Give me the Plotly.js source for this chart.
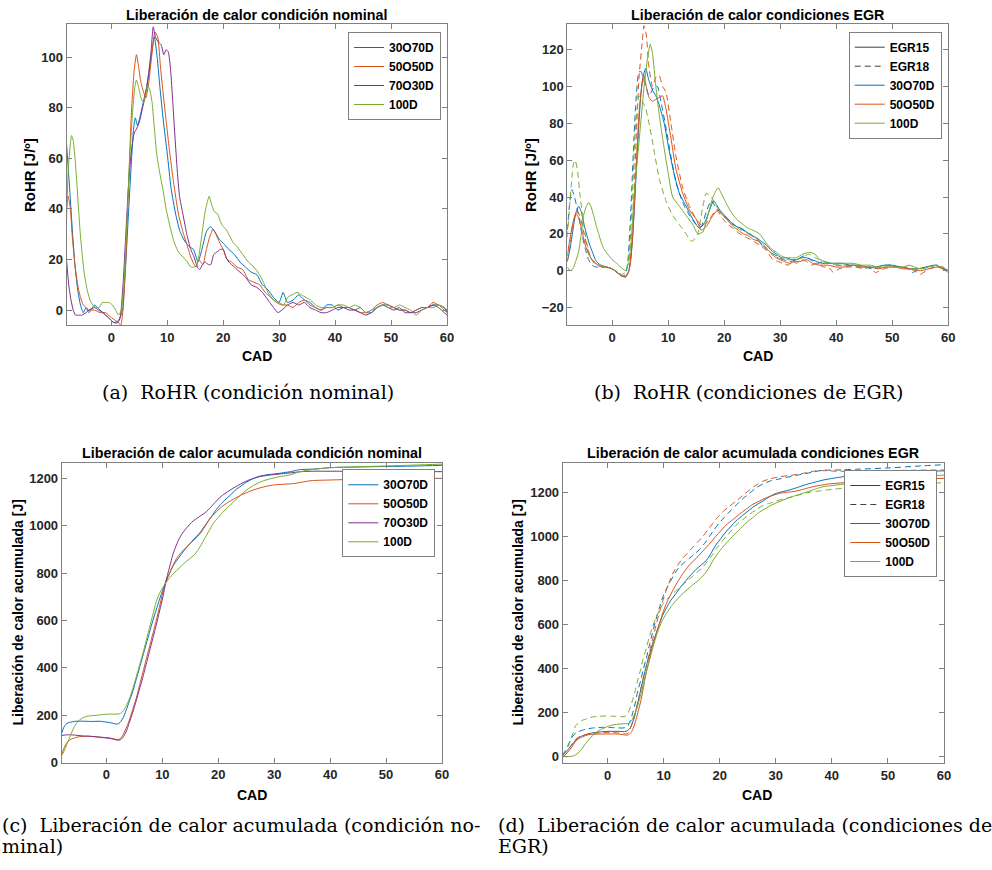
<!DOCTYPE html>
<html><head><meta charset="utf-8">
<script src="https://cdn.plot.ly/plotly-3.0.1.min.js"></script>
<style>html,body{margin:0;padding:0;background:#fff}#chart{width:992px;height:870px}</style>
</head><body><div id="chart"></div><script>
// ---------- DATA: [CAD, value] pairs ----------
// (a) RoHR, condición nominal [J/º]
const rohrNom_30O70D = [[-8,66],[-7.5,50],[-7,33],[-6.5,18],[-6,8],[-5.5,2],[-5,-1],[-4.5,1],[-4,-1],[-3,2],[-2.5,1],[-2,0],[-1,-2],[-0.5,-3],[0.5,-5],[1.3,-4],[2,0],[2.5,15],[3,35],[3.5,55],[4,72],[4.3,76],[4.7,73],[5.2,77],[5.7,82],[6.3,88],[7,98],[7.7,108],[8.2,100],[8.7,88],[9.3,75],[10,62],[10.7,48],[11.5,38],[12.3,31],[13.2,27],[14,25],[14.7,24],[15.5,19],[16.2,24],[17,31],[17.7,33],[18.5,31],[19.3,28],[20.2,26],[21,24],[22,22],[23,19],[24,17],[25,15],[26,14],[27,10],[28,8],[29,5],[30,3],[30.7,7],[31.5,3],[32.5,4],[33.5,6],[34.5,4],[35.5,3],[36.5,1],[37.5,0],[38.5,2],[39.5,2],[40.5,0],[41.5,1],[42.5,1],[43.5,0],[44.5,1],[45.5,-1],[46.5,-1],[47.5,1],[48.5,2],[49.5,2],[50.5,1],[51.5,0],[52.5,0],[53.5,-1],[54.5,0],[55.5,1],[56.5,1],[57.5,2],[58.5,2],[59.5,1],[60,-1]];
const rohrNom_50O50D = [[-8,40],[-7.7,45],[-7.3,40],[-7,30],[-6.5,18],[-6,10],[-5.5,5],[-5,2],[-4.5,1],[-4,0],[-3,0],[-2,-1],[-1,-1],[0,-3],[0.7,-4],[1.3,-5],[1.7,-6],[2.1,0],[2.6,20],[3.1,50],[3.6,78],[4.1,95],[4.5,101],[4.9,96],[5.3,90],[5.8,86],[6.2,84],[6.7,90],[7.2,100],[7.8,110],[8.3,108],[8.8,96],[9.3,85],[9.8,75],[10.3,65],[10.8,56],[11.3,48],[12,38],[12.8,31],[13.5,26],[14.2,21],[14.8,18],[15.2,17],[15.6,20],[16,19],[16.4,18],[17,24],[17.6,29],[18.2,32],[18.7,30],[19.3,27],[20,24],[20.7,20],[21.5,19],[22.5,17],[23.5,16],[24.5,12],[25.5,11],[26.5,10],[27.5,7],[28.5,5],[29.5,3],[30.5,2],[31.5,2],[32.5,1],[33.5,3],[34.5,4],[35.5,2],[36.5,1],[37.5,0],[38.5,1],[39.5,1],[40.5,2],[41.5,1],[42.5,1],[43.5,0],[44.5,-1],[45.5,-1],[46.5,0],[47.5,2],[48.5,3],[49.5,2],[50.5,1],[51.5,0],[52.5,0],[53.5,-1],[54.5,0],[55.5,1],[56.5,1],[57.5,3],[58.5,2],[59.5,1],[60,0]];
const rohrNom_70O30D = [[-8,20],[-7.6,10],[-7.2,4],[-6.8,0],[-6.4,-2],[-6,-2],[-5.3,-2],[-4.5,-1],[-4,0],[-3,1],[-2.3,0],[-1.5,-1],[-0.5,-3],[0.5,-5],[1.2,-5],[1.6,-3],[2.1,10],[2.6,30],[3.1,50],[3.6,63],[4.1,70],[4.6,72],[5.1,75],[5.6,80],[6.1,85],[6.6,92],[7.1,102],[7.5,112],[7.9,108],[8.4,106],[8.9,105],[9.4,101],[9.8,103],[10.2,102],[10.6,95],[11,82],[11.4,68],[11.8,55],[12.2,45],[12.8,38],[13.5,30],[14.2,24],[14.8,21],[15.4,17],[15.8,16],[16.3,18],[16.8,19],[17.3,18],[17.8,18],[18.3,22],[18.9,23],[19.5,24],[20,24],[20.5,21],[21,19],[22,17],[23,15],[24,13],[25,10],[26,9],[27,7],[28,4],[29,1],[29.8,-1],[30.5,0],[31.5,2],[32.5,3],[33.5,2],[34.5,3],[35.5,1],[36.5,0],[37.5,-1],[38.5,-1],[39.5,0],[40.5,1],[41.5,1],[42.5,0],[43.5,0],[44.5,-1],[45.5,-2],[46.5,-1],[47.5,1],[48.5,2],[49.5,1],[50.5,0],[51.5,1],[52.5,-1],[53.5,-1],[54.5,-1],[55.5,0],[56.5,1],[57.5,2],[58.5,1],[59.5,-1],[60,-2]];
const rohrNom_100D = [[-8,35],[-7.7,55],[-7.3,66],[-7.1,69],[-6.8,67],[-6.4,58],[-6,45],[-5.6,32],[-5.2,22],[-4.8,14],[-4.3,8],[-3.8,4],[-3.3,2],[-2.8,1],[-2.2,1],[-1.6,3],[-1,3],[-0.4,3],[0.2,2],[0.8,0],[1.3,-2],[1.8,0],[2.3,12],[2.8,35],[3.3,60],[3.8,78],[4.2,88],[4.5,91],[4.9,88],[5.3,84],[5.8,82],[6.2,86],[6.5,89],[6.9,87],[7.3,82],[7.7,72],[8.1,62],[8.6,55],[9.2,48],[9.8,40],[10.5,33],[11.2,27],[12,23],[12.8,21],[13.6,19],[14.2,17],[14.8,17],[15.3,18],[15.7,22],[16.2,30],[16.7,38],[17.2,43],[17.5,45],[17.9,42],[18.4,39],[19,38],[19.5,35],[20,33],[20.5,32],[21,30],[21.7,27],[22.5,25],[23.5,22],[24.5,19],[25.5,17],[26.5,14],[27.2,11],[28,7],[29,4],[30,3],[30.8,2],[31.5,5],[32.3,6],[33.2,7],[34,6],[34.8,5],[35.6,4],[36.5,2],[37.5,1],[38.5,1],[39.5,1],[40.5,2],[41.5,2],[42.5,1],[43.5,2],[44.5,1],[45.5,-1],[46.5,0],[47.5,1],[48.5,2],[49.5,1],[50.5,1],[51.5,2],[52.5,1],[53.5,0],[54.5,-2],[55.5,0],[56.5,1],[57.5,1],[58.5,2],[59.5,0],[60,-1]];

// (b) RoHR, condiciones EGR (EGR15 solid, EGR18 dashed)
const rohrEgr15_30O70D = [[-8,5],[-7.5,12],[-7,22],[-6.5,31],[-6,35],[-5.5,32],[-5,25],[-4.5,19],[-4,14],[-3.5,10],[-3,6],[-2.5,4],[-2,3],[-1,2],[0,1],[0.9,-1],[1.8,-3],[2.4,-3],[2.9,-1],[3.3,5],[3.9,30],[4.5,65],[5.1,95],[5.5,105],[6,110],[6.5,104],[7.2,98],[7.8,95],[8.4,90],[9.3,80],[10.2,65],[11.1,52],[12,42],[13.2,35],[14.4,28],[15.6,23],[16.5,26],[17.4,33],[18.1,38],[18.6,36],[19.2,33],[20.4,29],[21.3,26],[22.2,24],[23.1,23],[24,21],[25,19],[25.7,18],[26.6,16],[27.5,14],[28.4,11],[29.3,9],[30.2,7],[31.1,7],[32,6],[32.9,6],[33.8,7],[34.7,7],[35.6,6],[36.5,5],[37.4,4],[38.3,4],[39.5,4],[41,4],[42.5,3],[44,3],[45.5,2],[47,2],[48.5,3],[50,3],[51.5,2],[53,1],[54.5,1],[56,2],[57.5,3],[58.5,2],[60,0]];
const rohrEgr18_30O70D = [[-8,22],[-7.6,36],[-7.2,44],[-6.8,41],[-6.4,36],[-6,30],[-5.4,20],[-4.8,12],[-4.2,6],[-3.6,3],[-3,2],[-2.4,2],[-1.5,2],[0,1],[1,-1],[1.8,-3],[2.4,-2],[2.8,5],[3.3,30],[3.8,65],[4.2,90],[4.8,108],[5.2,108],[5.5,105],[6,100],[6.6,95],[7,97],[7.5,100],[8.1,100],[8.7,92],[9.6,78],[10.5,62],[11.4,48],[12.6,37],[13.8,30],[15,25],[15.9,24],[16.8,32],[17.7,38],[18.6,34],[19.8,30],[21,27],[22.2,24],[23.4,22],[24.6,20],[25.8,17],[27,14],[28.2,10],[29.4,8],[30.6,6],[31.8,5],[33,6],[34.2,8],[35.4,6],[36.6,4],[37.8,5],[39,4],[40.5,3],[42,3],[43.5,2],[45,2],[46.5,1],[48,2],[49.5,3],[51,2],[52.5,2],[53.5,-1],[55,1],[56.5,2],[58,3],[59,1],[60,0]];
const rohrEgr15_50O50D = [[-8,8],[-7.5,18],[-7,26],[-6.5,31],[-6,29],[-5.4,22],[-4.8,14],[-4.2,9],[-3.6,6],[-3,4],[-2.4,3],[-1.8,2],[-1,2],[0,1],[0.9,-1],[1.8,-3],[2.4,-3.5],[3,0],[3.6,15],[4.2,50],[4.8,85],[5.4,103],[5.7,106],[6.1,100],[6.6,94],[7.2,92],[7.8,93],[8.4,94],[9,95],[9.6,88],[10.5,72],[11.4,55],[12.6,42],[13.8,33],[15,28],[15.9,22],[16.8,24],[18,30],[18.9,33],[19.8,30],[20.7,27],[21.6,24],[22.5,22],[23.4,20],[24.3,19],[25.2,17],[26.1,16],[27,13],[27.9,11],[28.8,8],[29.9,6],[30.8,5],[31.7,4],[32.6,5],[33.5,5],[34.7,6],[35.8,4],[37,3],[38.5,3],[40,2],[41.5,2],[43,3],[44.5,2],[46,2],[47.5,1],[49,2],[50.5,2],[52,1],[53.5,1],[55,0],[56.5,1],[58,2],[59,1],[60,0]];
const rohrEgr18_50O50D = [[-8,5],[-7.5,14],[-7,25],[-6.5,31],[-6.1,32],[-5.6,28],[-5,20],[-4.4,12],[-3.8,7],[-3.2,4],[-2.6,3],[-1.8,2],[-1,2],[0,1],[0.9,-1],[1.8,-3],[2.4,-3.5],[3,0],[3.6,20],[4.2,65],[4.8,105],[5.4,125],[5.7,133],[6.1,128],[6.6,110],[7.2,100],[7.8,105],[8.4,106],[9,100],[9.6,97],[10.5,80],[11.4,62],[12.6,45],[13.8,35],[15,28],[16.2,24],[17.4,28],[18.6,33],[19.8,28],[20.7,25],[21.6,23],[22.8,20],[24,18],[25.2,16],[26.3,14],[27.5,11],[28.7,6],[29.6,5],[30.5,4],[31.4,3],[32.3,5],[32.9,4],[33.8,6],[34.7,5],[35.6,3],[36.5,4],[37.7,2],[38.6,2],[39.5,-1],[40.5,1],[42,2],[43.5,2],[45,1],[46,2],[47,-1],[48.5,1],[50,2],[51.5,2],[53,1],[54,0],[55,-2],[56.5,1],[58,2],[59,2],[60,0]];
const rohrEgr15_100D = [[-8,2],[-7.5,0],[-7,1],[-6.5,5],[-6,10],[-5.5,20],[-5.1,30],[-4.6,35],[-4.2,37],[-3.8,35],[-3.3,30],[-2.8,24],[-2.4,20],[-1.9,15],[-1.5,12],[-0.8,9],[0,6],[0.8,4],[1.5,2],[2.4,0],[3,5],[3.5,20],[3.9,40],[4.5,60],[5.1,80],[5.7,100],[6.3,115],[6.8,123],[7.2,118],[7.8,100],[8.4,85],[9,72],[9.9,55],[10.8,40],[12,35],[13.2,30],[14.4,25],[15.3,20],[16.2,21],[17.1,30],[18,40],[18.9,45],[19.8,40],[21,33],[22.2,28],[23.4,25],[24.3,23],[25.1,22],[26.3,20],[27.5,15],[28.4,12],[29.3,10],[30.2,8],[31.1,7],[32,7],[32.9,7],[34,9],[35.3,10],[36.2,9],[37.1,6],[38,5],[38.9,4],[40,4],[41.5,4],[43,4],[44.5,3],[46,3],[47.5,2],[49,2],[50.5,2],[52,2],[53,3],[54,2],[55,1],[56.5,2],[58,3],[59,1],[60,-1]];
const rohrEgr18_100D = [[-8,18],[-7.6,35],[-7.2,50],[-6.9,58],[-6.6,60],[-6.2,55],[-5.7,40],[-5.2,28],[-4.8,20],[-4.3,12],[-3.9,8],[-3.2,5],[-2.4,3],[-1.2,2],[0,1],[1,-1],[1.8,-2],[2.3,-1],[2.7,2],[3.2,15],[3.6,40],[4.2,80],[4.8,95],[5.4,92],[6,88],[6.6,80],[7.5,65],[8.4,50],[9.6,38],[10.8,30],[12,25],[13.2,20],[14.1,16],[14.7,17],[15.3,20],[16.2,35],[16.8,42],[17.7,40],[18.6,35],[19.5,31],[20.7,27],[21.9,24],[23.1,22],[24.3,20],[25.5,18],[26.7,15],[27.9,11],[29.1,8],[30.3,6],[31.5,6],[32.7,6],[33.9,7],[35.1,9],[36.3,7],[37.5,5],[38.7,4],[40,3],[41.5,3],[43,3],[44.5,2],[46,2],[47.5,2],[49,3],[50.5,2],[52,2],[53.5,1],[55,1],[56.5,2],[58,3],[59,2],[60,0]];

// (c) Liberación de calor acumulada, condición nominal [J]
const cumNom_30O70D = [[-8,124],[-7.6,150],[-7.1,165],[-6.6,170],[-5.4,175],[-4,175],[-2.5,174],[-1.3,175],[-0.2,172],[0.5,170],[1.2,166],[1.7,163],[2.2,165],[2.6,175],[3,190],[3.5,220],[4.1,260],[4.7,300],[5.3,350],[5.9,400],[6.5,450],[7.1,500],[7.7,550],[8.3,600],[8.9,645],[9.5,690],[10.1,730],[10.7,770],[11.3,800],[11.9,830],[12.8,860],[13.7,890],[14.6,915],[15.5,940],[16.1,955],[16.7,970],[17.3,990],[17.9,1010],[18.8,1040],[19.7,1070],[20.6,1095],[21.5,1115],[22.4,1135],[23.3,1155],[24.2,1170],[25.1,1185],[26,1196],[26.9,1205],[27.8,1211],[28.7,1215],[30.5,1220],[32,1225],[32.9,1228],[34,1234],[34.7,1237],[36,1238],[37.7,1240],[40,1245],[45,1248],[50,1250],[55,1252],[60,1255]];
const cumNom_50O50D = [[-8,35],[-7.6,60],[-7.2,80],[-6.7,93],[-6.3,100],[-5.5,106],[-4.8,110],[-3.1,112],[-1.3,108],[0.5,105],[1.3,101],[2,97],[2.5,102],[2.9,115],[3.5,145],[4.1,180],[4.7,225],[5.3,270],[5.9,325],[6.5,380],[7.1,435],[7.7,490],[8.3,545],[8.9,600],[9.5,660],[10.1,720],[10.7,765],[11.3,800],[11.9,832],[12.5,860],[13.4,888],[14.3,910],[15.2,930],[16.1,950],[16.7,965],[17.3,985],[17.9,1008],[18.5,1030],[19.1,1045],[19.7,1060],[20.6,1080],[21.5,1095],[22.4,1108],[23.3,1120],[24.2,1131],[25.1,1140],[26.3,1151],[27.5,1160],[28.7,1167],[29.9,1172],[31.7,1175],[33.5,1178],[35,1184],[36.5,1190],[40,1193],[45,1196],[50,1198],[55,1199],[60,1200]];
const cumNom_70O30D = [[-8,115],[-7.3,117],[-6.6,118],[-5.5,116],[-4.3,113],[-2.8,111],[-1.3,108],[0,104],[1.1,100],[2,95],[2.5,97],[2.9,105],[3.5,130],[4.1,170],[4.7,212],[5.3,260],[5.9,310],[6.5,360],[7.1,415],[7.7,470],[8.3,525],[8.9,580],[9.5,640],[10.1,700],[10.6,760],[11,800],[11.5,845],[11.9,880],[12.5,918],[13.1,950],[13.7,972],[14.3,990],[14.9,1006],[15.5,1020],[16.1,1030],[16.7,1040],[17.3,1049],[17.9,1060],[18.5,1074],[19.1,1090],[19.7,1105],[20.3,1120],[21.2,1136],[22.1,1150],[23,1163],[23.9,1175],[24.8,1186],[25.7,1195],[26.6,1202],[27.5,1208],[28.4,1211],[29.3,1214],[30.5,1217],[31.7,1220],[33.2,1224],[34.7,1228],[37,1230],[40,1230],[45,1230],[50,1230],[55,1229],[60,1228]];
const cumNom_100D = [[-8,30],[-7.6,48],[-7.2,70],[-6.6,105],[-6,140],[-5.4,165],[-4.8,180],[-4.2,190],[-3.7,195],[-2.8,198],[-1.9,200],[-0.7,203],[0.5,205],[1.3,205],[2,205],[2.5,208],[2.9,215],[3.5,238],[4.1,270],[4.7,312],[5.3,360],[5.9,410],[6.5,460],[7.1,515],[7.7,570],[8.3,625],[8.9,680],[9.5,715],[10.1,740],[10.7,762],[11.3,780],[11.9,796],[12.5,810],[13.4,830],[14.3,850],[15.1,865],[15.8,880],[16.3,895],[16.7,910],[17.3,935],[17.9,960],[18.5,985],[19.1,1010],[20,1035],[20.9,1060],[21.8,1080],[22.7,1100],[23.6,1120],[24.5,1140],[25.4,1156],[26.3,1170],[27.2,1181],[28.1,1190],[29.3,1198],[30.5,1205],[31.7,1210],[32.9,1215],[33.8,1222],[34.7,1228],[36,1234],[37.7,1240],[40,1245],[45,1249],[50,1252],[55,1256],[60,1260]];

// (d) Liberación de calor acumulada, condiciones EGR [J]
const cumEgr15_30O70D = [[-8,10],[-7.4,22],[-6.8,40],[-6.2,58],[-5.7,75],[-5.1,87],[-4.5,95],[-3.9,100],[-3.3,105],[-2.4,109],[-1.5,112],[-0.6,114],[0.3,115],[1.2,115],[2.1,115],[2.7,114],[3.3,115],[3.9,125],[4.3,145],[4.8,180],[5.2,225],[5.7,280],[6.2,335],[6.8,400],[7.4,455],[8,510],[8.6,555],[9.2,600],[9.8,640],[10.4,670],[11.3,710],[12.2,740],[13.1,772],[14,800],[14.9,826],[15.8,850],[16.7,870],[17.6,890],[18.5,925],[19.3,960],[20.2,990],[21.1,1020],[22,1045],[22.9,1070],[24.1,1095],[25.3,1120],[26.5,1142],[27.7,1160],[28.9,1180],[30.1,1195],[31.3,1203],[32.4,1210],[33.9,1222],[35.4,1235],[36.9,1245],[38.4,1255],[39.9,1262],[41.4,1268],[42.9,1274],[44.3,1280],[47,1285],[50,1290],[55,1294],[60,1297]];
const cumEgr18_30O70D = [[-8,5],[-7.6,25],[-7.1,50],[-6.5,80],[-6,100],[-5.3,112],[-4.5,120],[-3.6,126],[-2.7,130],[-1.8,132],[-0.9,133],[0,133],[0.9,132],[1.8,131],[2.7,130],[3.2,133],[3.6,140],[4,160],[4.5,200],[5,250],[5.4,300],[5.9,345],[6.3,390],[6.9,445],[7.4,500],[8,560],[8.6,620],[9.2,672],[9.8,720],[10.5,762],[11.3,800],[12,832],[12.8,860],[13.7,882],[14.6,900],[15.5,920],[16.4,940],[17.3,968],[18.2,1000],[19,1030],[19.9,1060],[20.8,1085],[21.7,1110],[22.9,1140],[24.1,1170],[25.3,1195],[26.5,1220],[27.7,1237],[28.9,1250],[30.6,1260],[32.4,1270],[33.9,1278],[35.4,1285],[36.9,1293],[38.4,1300],[40,1300],[42,1302],[45,1305],[50,1310],[55,1318],[60,1325]];
const cumEgr15_50O50D = [[-8,0],[-7.4,12],[-6.8,30],[-6.2,50],[-5.7,70],[-5.1,82],[-4.5,90],[-3.9,96],[-3.3,100],[-2.1,102],[-0.9,103],[0.3,103],[1.5,103],[2.1,102],[2.7,100],[3.2,98],[3.6,98],[4.2,110],[4.6,130],[5.1,170],[5.5,210],[6,260],[6.4,315],[6.8,370],[7.4,435],[8,500],[8.6,550],[9.2,600],[9.8,648],[10.4,690],[11.3,738],[12.2,780],[13.1,818],[14,850],[14.9,878],[15.8,900],[16.7,925],[17.6,950],[18.5,975],[19.3,1000],[20.2,1025],[21.1,1050],[22.3,1075],[23.5,1100],[24.7,1123],[25.9,1145],[27.1,1160],[28.3,1175],[29.5,1186],[30.7,1195],[32.1,1200],[33.6,1205],[35.1,1215],[36.6,1225],[38.1,1232],[39.6,1238],[41.5,1242],[43,1245],[45,1248],[50,1255],[55,1260],[60,1263]];
const cumEgr18_50O50D = [[-8,5],[-7.4,20],[-6.8,40],[-6.2,62],[-5.7,80],[-4.8,93],[-3.9,100],[-2.7,105],[-1.5,108],[-0.3,110],[0.9,110],[1.8,108],[2.7,105],[3.2,104],[3.6,105],[4,125],[4.5,160],[5.1,215],[5.7,280],[6.2,340],[6.8,400],[7.4,465],[8,530],[8.6,592],[9.2,650],[9.8,702],[10.4,750],[11,790],[11.6,830],[12.5,868],[13.4,900],[14.3,925],[15.2,950],[16.1,975],[17,1000],[17.9,1030],[18.8,1060],[19.6,1085],[20.5,1110],[21.7,1135],[22.9,1160],[24.1,1185],[25.3,1210],[26.5,1232],[27.7,1250],[29.2,1262],[30.7,1270],[32.1,1275],[33.6,1280],[35.1,1287],[36.6,1295],[38.4,1298],[40,1296],[45,1295],[50,1298],[55,1300],[60,1301]];
const cumEgr15_100D = [[-8,0],[-7.2,0],[-6.3,2],[-5.7,8],[-5.1,20],[-4.5,38],[-3.9,60],[-3.3,78],[-2.7,95],[-2.1,108],[-1.5,120],[-0.6,130],[0.3,140],[1.2,145],[2.1,148],[3.3,150],[3.8,152],[4.2,160],[4.6,180],[5.1,210],[5.7,260],[6.3,320],[6.8,375],[7.4,430],[8,487],[8.6,540],[9.2,585],[9.8,620],[10.7,658],[11.6,690],[12.5,717],[13.4,740],[14.3,760],[15.2,780],[16.1,798],[17,820],[17.9,850],[18.8,890],[19.6,920],[20.5,950],[21.4,975],[22.3,1000],[23.5,1030],[24.7,1060],[25.9,1085],[27.1,1110],[28.3,1128],[29.5,1145],[30.9,1160],[32.4,1175],[33.9,1188],[35.4,1200],[36.9,1213],[38.4,1225],[40,1230],[42,1237],[45,1248],[50,1262],[55,1270],[60,1278]];
const cumEgr18_100D = [[-8,5],[-7.4,25],[-6.8,60],[-6.2,105],[-5.7,140],[-5.1,155],[-4.5,165],[-3.6,173],[-2.7,180],[-1.5,183],[-0.3,185],[0.9,184],[1.5,183],[2.3,182],[3,182],[3.6,195],[4,220],[4.5,260],[5,305],[5.4,350],[5.9,395],[6.3,440],[6.9,490],[7.4,540],[8,587],[8.6,630],[9.2,662],[9.8,690],[10.7,718],[11.6,740],[12.5,760],[13.4,780],[14.3,800],[15.2,820],[16.1,840],[17,860],[17.9,890],[18.8,920],[19.6,950],[20.5,980],[21.7,1015],[22.9,1050],[24.1,1075],[25.3,1100],[26.5,1120],[27.7,1140],[28.9,1150],[30.1,1160],[31.5,1170],[33,1180],[34.5,1190],[36,1200],[37.5,1205],[39,1210],[42,1218],[45,1225],[50,1235],[55,1240],[60,1243]];

// Labels
const mixNom = ['30O70D','50O50D','70O30D','100D'];
const mixEgr = ['30O70D','50O50D','100D'];
const egrNames = ['EGR15','EGR18'];
const cadTicks = [0,10,20,30,40,50,60];
const rohrNomTicks = [0,20,40,60,80,100];
const rohrEgrTicks = [-20,0,20,40,60,80,100,120];
const cumTicks = [0,200,400,600,800,1000,1200];

// ---------- STYLE ----------
const W = 992, H = 870;
const px = v => v / W, py = v => 1 - v / H;
const C = {'30O70D':'#0072BD','50O50D':'#D95319','70O30D':'#7E2F8E','100D':'#77AC30'};
const SANS = 'Liberation Sans, Arial, sans-serif';
const SERIF = 'DejaVu Serif, serif';
const DASH = '6px,4px';
const NB = '\u00A0';

function line(pairs, color, dash, xa, ya, name, legend, showlegend, smooth) {
  return {
    type:'scatter', mode:'lines', x: pairs.map(p=>p[0]), y: pairs.map(p=>p[1]),
    xaxis: xa, yaxis: ya, name: name, legend: legend, showlegend: showlegend,
    line:{color: color, width: 1, dash: dash, shape:'spline', smoothing: smooth},
    hoverinfo:'skip'
  };
}
function legendOnly(name, color, dash, legend, xa, ya) {
  return {type:'scatter', mode:'lines', x:[null], y:[null], xaxis:xa, yaxis:ya,
    name: name, legend: legend, showlegend:true, line:{color: color, width:1, dash: dash}};
}

const traces = [];
// (a)
[rohrNom_30O70D, rohrNom_50O50D, rohrNom_70O30D, rohrNom_100D].forEach((d,i)=>
  traces.push(line(d, C[mixNom[i]], 'solid', 'x', 'y', mixNom[i], 'legend', true, 0.5)));
// (b)
const rohrEgr = [[rohrEgr15_30O70D, rohrEgr18_30O70D],[rohrEgr15_50O50D, rohrEgr18_50O50D],[rohrEgr15_100D, rohrEgr18_100D]];
rohrEgr.forEach((pair,i)=>{
  traces.push(line(pair[0], C[mixEgr[i]], 'solid', 'x2', 'y2', mixEgr[i]+' '+egrNames[0], 'legend2', false, 0.5));
  traces.push(line(pair[1], C[mixEgr[i]], DASH, 'x2', 'y2', mixEgr[i]+' '+egrNames[1], 'legend2', false, 0.5));
});
traces.push(legendOnly(egrNames[0], '#404040', 'solid', 'legend2', 'x2', 'y2'));
traces.push(legendOnly(egrNames[1], '#404040', DASH, 'legend2', 'x2', 'y2'));
mixEgr.forEach(m=>traces.push(legendOnly(m, C[m], 'solid', 'legend2', 'x2', 'y2')));
// (c)
[cumNom_30O70D, cumNom_50O50D, cumNom_70O30D, cumNom_100D].forEach((d,i)=>
  traces.push(line(d, C[mixNom[i]], 'solid', 'x3', 'y3', mixNom[i], 'legend3', true, 0.8)));
// (d)
const cumEgr = [[cumEgr15_30O70D, cumEgr18_30O70D],[cumEgr15_50O50D, cumEgr18_50O50D],[cumEgr15_100D, cumEgr18_100D]];
cumEgr.forEach((pair,i)=>{
  traces.push(line(pair[0], C[mixEgr[i]], 'solid', 'x4', 'y4', mixEgr[i]+' '+egrNames[0], 'legend4', false, 0.8));
  traces.push(line(pair[1], C[mixEgr[i]], DASH, 'x4', 'y4', mixEgr[i]+' '+egrNames[1], 'legend4', false, 0.8));
});
traces.push(legendOnly(egrNames[0], '#404040', 'solid', 'legend4', 'x4', 'y4'));
traces.push(legendOnly(egrNames[1], '#404040', DASH, 'legend4', 'x4', 'y4'));
mixEgr.forEach(m=>traces.push(legendOnly(m, C[m], 'solid', 'legend4', 'x4', 'y4')));

function ax(domain, range, tickvals, anchor) {
  return {domain: domain, range: range, tickvals: tickvals, anchor: anchor,
    ticks:'inside', ticklen:5, tickwidth:1, tickcolor:'#808080',
    showline:true, linecolor:'#808080', linewidth:1, mirror:'ticks',
    showgrid:false, zeroline:false, fixedrange:true,
    tickfont:{family:SANS, size:13, color:'#262626', weight:'bold'}};
}
function lg(xr, yt) {
  return {x: px(xr), y: py(yt), xanchor:'right', yanchor:'top', xref:'paper', yref:'paper',
    bgcolor:'#ffffff', bordercolor:'#808080', borderwidth:1, traceorder:'normal',
    font:{family:SANS, size:12, color:'#000', weight:'bold'}, itemwidth:30, tracegroupgap:0};
}
function ann(text, x, y, size, opts) {
  return Object.assign({text: text, x: px(x), y: py(y), xref:'paper', yref:'paper',
    showarrow:false, xanchor:'center', yanchor:'middle',
    font:{family:SANS, size:size, color:'#000', weight:'bold'}}, opts||{});
}
const cap = (text, x, y, xa) => ann(text, x, y, 19, {xanchor: xa, font:{family:SERIF, size:19, color:'#000'}});

const layout = {
  width: W, height: H, margin:{l:0, r:0, t:0, b:0},
  paper_bgcolor:'#fff', plot_bgcolor:'#fff', showlegend:true,
  xaxis:  ax([px(66.5), px(447)], [-8,60], cadTicks, 'y'),
  yaxis:  ax([py(325), py(24.3)], [-5.9,113], rohrNomTicks, 'x'),
  xaxis2: ax([px(567.3), px(948.3)], [-8,60], cadTicks, 'y2'),
  yaxis2: ax([py(325), py(24.3)], [-29.5,133.8], rohrEgrTicks, 'x2'),
  xaxis3: ax([px(61.7), px(442)], [-8,60], cadTicks, 'y3'),
  yaxis3: ax([py(762.7), py(462.7)], [0,1266], cumTicks, 'x3'),
  xaxis4: ax([px(562.7), px(944)], [-8,60], cadTicks, 'y4'),
  yaxis4: ax([py(763.3), py(462.7)], [-30,1334], cumTicks, 'x4'),
  legend:  lg(441, 32),
  legend2: lg(941.7, 31.7),
  legend3: lg(435.3, 469.3),
  legend4: lg(937.3, 470),
  annotations: [
    ann('Liberación de calor condición nominal', 256.5, 15, 14.3),
    ann('Liberación de calor condiciones EGR', 757.5, 15, 14.3),
    ann('Liberación de calor acumulada condición nominal', 251.7, 452.7, 14.3),
    ann('Liberación de calor acumulada condiciones EGR', 753, 452.7, 14.3),
    ann('CAD', 256.7, 356, 14),
    ann('CAD', 757.7, 356, 14),
    ann('CAD', 251.7, 795, 14),
    ann('CAD', 756.7, 795, 14),
    ann('RoHR [J/º]', 29, 175, 15, {textangle:-90}),
    ann('RoHR [J/º]', 530, 175, 15, {textangle:-90}),
    ann('Liberación de calor acumulada [J]', 17.5, 613, 14, {textangle:-90}),
    ann('Liberación de calor acumulada [J]', 517.5, 613, 14, {textangle:-90}),
    cap('(a)'+NB+NB+'RoHR (condición nominal)', 247.5, 392, 'center'),
    cap('(b)'+NB+NB+'RoHR (condiciones de EGR)', 748, 392, 'center'),
    cap('(c)'+NB+NB+'Liberación de calor acumulada (condición no-', 0, 825, 'left'),
    cap('minal)', 0, 846, 'left'),
    cap('(d)'+NB+NB+'Liberación de calor acumulada (condiciones de', 496, 825, 'left'),
    cap('EGR)', 496, 846, 'left')
  ]
};
Plotly.newPlot('chart', traces, layout, {staticPlot:true, displayModeBar:false});
</script></body></html>
